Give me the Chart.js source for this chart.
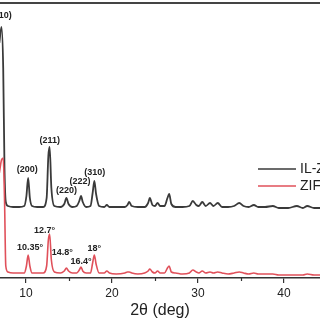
<!DOCTYPE html>
<html><head><meta charset="utf-8">
<script src="https://cdn.jsdelivr.net/npm/chart.js@4"></script>
<style>html,body{margin:0;padding:0;background:#fff}canvas{display:block}</style>
</head><body>
<canvas id="c" width="320" height="320"></canvas>
<script>
// 2θ positions (deg)
const twoTheta = [6.9, 7.15, 7.35, 7.5, 7.65, 7.9, 8.5, 9.2, 9.8, 10.05, 10.25, 10.45, 10.7, 11.3, 12.0, 12.4, 12.6, 12.75, 12.95, 13.3,
  14.0, 14.45, 14.7, 14.95, 15.4, 15.9, 16.2, 16.4, 16.6, 17.0, 17.5, 17.75, 17.95, 18.15, 18.5, 19.1, 19.4, 19.7, 20.5, 21.5,
  21.8, 22.0, 22.3, 23.0, 23.8, 24.2, 24.4, 24.7, 25.0, 25.3, 25.6, 26.1, 26.45, 26.65, 26.9, 27.4, 28.2, 29.0, 29.4, 29.8,
  30.1, 30.5, 30.9, 31.4, 31.8, 32.3, 32.8, 33.5, 34.2, 34.8, 35.3, 35.9, 36.5, 37.0, 37.8, 38.7, 39.4, 40.5, 41.5, 42.2,
  42.7, 43.5, 44.3];
// intensity (a.u., offset) IL-ZIF-8
const ilZif8 = [235, 251, 210, 110, 76, 72, 71, 71, 72, 82, 100, 80, 72, 71, 71, 80, 122, 131, 90, 72,
  71, 74, 80, 74, 71, 72, 77, 82, 76, 71, 72, 85, 97, 84, 72, 71, 73, 71, 71, 71,
  73, 76, 72, 71, 71, 75, 80, 73, 72, 75, 72, 72, 80, 84, 74, 71, 71, 72, 77, 73,
  72, 76, 72, 75, 72, 75, 71, 71, 72, 75, 72, 71, 73, 71, 71, 72, 70, 70, 72, 70,
  72, 70, 70];
// intensity (a.u.) ZIF-8
const zif8 = [105, 118, 120, 80, 12, 6, 5, 5, 5, 12, 23, 12, 5, 5, 5, 12, 38, 44, 18, 6,
  5, 7, 10, 7, 5, 5, 8, 11, 7, 5, 5, 15, 23, 14, 5, 5, 7, 5, 4, 5,
  6, 6, 5, 4, 5, 7, 9, 6, 5, 7, 5, 5, 10, 12, 6, 5, 4, 5, 8, 6,
  5, 7, 5, 6, 5, 6, 5, 4, 5, 6, 5, 4, 5, 4, 4, 4, 3, 3, 3, 3,
  4, 3, 3];
const seriesNames = ['IL-ZIF-8', 'ZIF-8'];
const xTickValues = [10, 15, 20, 25, 30, 35, 40];
const ilPeakLabels = ['(110)', '(200)', '(211)', '(220)', '(222)', '(310)'];
const ilPeakAt = [7.15, 10.25, 12.75, 14.7, 16.4, 17.95];
const zifPeakLabels = ['10.35°', '12.7°', '14.8°', '16.4°', '18°'];
const zifPeakAt = [10.25, 12.75, 14.7, 16.4, 17.95];

// styling (pixel offsets of labels from peak tops)
const ilLabelOffset = [[0, -11.5], [-1, -8.5], [0, -6.5], [0, -7], [-1, -14], [0.5, -8]];
const zifLabelOffset = [[2, -7], [-5, -3], [-4, -15], [0, -5.5], [0, -6]];
const COL_IL = '#3a3a3a', COL_ZIF = '#e0505a', TXT = '#222';

const pts = ys => twoTheta.map((x, i) => ({x, y: ys[i]}));

const deco = {
  id: 'deco',
  afterDraw(chart) {
    const {ctx, chartArea: ca, scales: {x, y}} = chart;
    ctx.save();
    // top frame line
    ctx.strokeStyle = '#444'; ctx.lineWidth = 2;
    ctx.beginPath(); ctx.moveTo(0, ca.top); ctx.lineTo(320, ca.top); ctx.stroke();
    // minor ticks
    ctx.strokeStyle = '#333'; ctx.lineWidth = 1.2;
    xTickValues.filter(v => v % 10).forEach(v => {
      const px = Math.round(x.getPixelForValue(v)) + 0.5;
      ctx.beginPath(); ctx.moveTo(px, ca.bottom); ctx.lineTo(px, ca.bottom + 3); ctx.stroke();
    });
    // peak labels
    ctx.fillStyle = TXT; ctx.font = 'bold 9px "Liberation Sans", Arial, sans-serif';
    ctx.textAlign = 'center'; ctx.textBaseline = 'middle';
    const put = (labels, at, series, offs) => labels.forEach((t, i) => {
      const k = twoTheta.indexOf(at[i]);
      ctx.fillText(t, x.getPixelForValue(at[i]) + offs[i][0], y.getPixelForValue(series[k]) + offs[i][1]);
    });
    put(ilPeakLabels, ilPeakAt, ilZif8, ilLabelOffset);
    put(zifPeakLabels, zifPeakAt, zif8, zifLabelOffset);
    // legend
    const leg = [[COL_IL, 169], [COL_ZIF, 186]];
    ctx.font = '14px "Liberation Sans", Arial, sans-serif'; ctx.textAlign = 'left';
    leg.forEach(([c, ly], i) => {
      ctx.strokeStyle = c; ctx.lineWidth = 1.5;
      ctx.beginPath(); ctx.moveTo(258, ly); ctx.lineTo(296, ly); ctx.stroke();
      ctx.fillStyle = TXT; ctx.fillText(seriesNames[i], 300, ly + 0.5);
    });
    ctx.restore();
  }
};

new Chart(document.getElementById('c'), {
  type: 'line',
  data: {
    datasets: [
      {label: seriesNames[1], data: pts(zif8), borderColor: COL_ZIF, borderWidth: 1.6, pointRadius: 0, cubicInterpolationMode: 'monotone'},
      {label: seriesNames[0], data: pts(ilZif8), borderColor: COL_IL, borderWidth: 1.8, pointRadius: 0, cubicInterpolationMode: 'monotone'}
    ]
  },
  options: {
    responsive: false, animation: false, devicePixelRatio: 1,
    layout: {padding: {top: 3, left: 0, right: 0, bottom: 0}},
    plugins: {legend: {display: false}, tooltip: {enabled: false}},
    scales: {
      y: {display: false, min: 0, max: 275},
      x: {
        type: 'linear', min: 6.977, max: 44.19,
        afterBuildTicks: s => { s.ticks = xTickValues.map(v => ({value: v})); },
        afterFit: s => { s.height = 42; },
        grid: {drawOnChartArea: false, drawTicks: true, tickLength: 5, lineWidth: 1.2,
               color: c => (c.tick && c.tick.value % 10) ? 'rgba(0,0,0,0)' : '#333'},
        border: {display: true, color: '#333', width: 1.5},
        ticks: {color: TXT, padding: 3, font: {size: 12, family: '"Liberation Sans", Arial, sans-serif'},
                callback: v => v % 10 ? '' : String(v), autoSkip: false, maxRotation: 0},
        title: {display: true, text: '2θ (deg)', color: TXT, padding: {top: 0, bottom: 0},
                font: {size: 16, family: '"Liberation Sans", Arial, sans-serif'}}
      }
    }
  },
  plugins: [deco]
});
</script>
</body></html>
